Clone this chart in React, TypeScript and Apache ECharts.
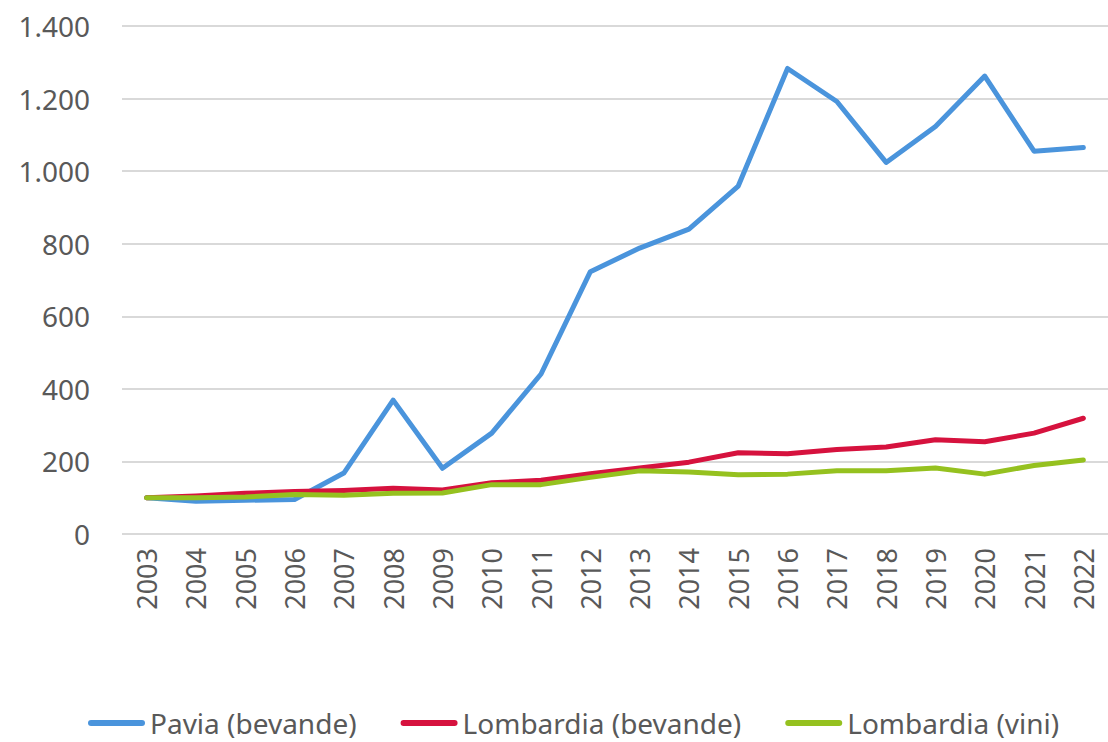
import React, { useEffect, useRef } from "react";
import * as echarts from "echarts";

const years = ["2003","2004","2005","2006","2007","2008","2009","2010","2011","2012","2013","2014","2015","2016","2017","2018","2019","2020","2021","2022"];
const paviaBevande = [100, 90, 93, 95, 168, 369, 181, 278, 441, 723, 788, 840, 959, 1283, 1192, 1024, 1123, 1262, 1055, 1065];
const lombardiaBevande = [100, 105, 112, 117, 120, 126, 121, 141, 148, 166, 182, 198, 224, 221, 233, 240, 260, 254, 278, 319];
const lombardiaVini = [100, 100, 102, 109, 107, 112, 113, 136, 136, 156, 174, 171, 163, 165, 174, 174, 182, 165, 189, 204];
const yTicks = { min: 0, max: 1400, interval: 200 };

const FONT = "Noto Sans";
const TEXT = "#595959";
const LEGEND_ICON = "path://M3,0 L54,0 A3,3 0 0 1 54,6 L3,6 A3,3 0 0 1 3,0 Z";

function fmt(v: number): string {
  return String(Math.round(v)).replace(/\B(?=(\d{3})+(?!\d))/g, ".");
}

export default function App() {
  const ref = useRef<HTMLDivElement>(null);
  useEffect(() => {
    if (!ref.current) return;
    const chart = echarts.init(ref.current, null, { renderer: "svg" });
    const mk = (name: string, data: number[], color: string) => ({
      name,
      type: "line",
      data,
      symbol: "none",
      showSymbol: false,
      lineStyle: { color, width: 5, cap: "round", join: "round" },
      itemStyle: { color },
    });
    chart.setOption({
      animation: false,
      textStyle: { fontFamily: FONT },
      grid: { left: 122, top: 26, width: 992, bottom: 208, containLabel: false },
      xAxis: {
        type: "category",
        data: years,
        boundaryGap: true,
        axisLine: { show: false },
        axisTick: { show: false },
        axisLabel: { rotate: 90, margin: 14, color: TEXT, fontSize: 27, fontFamily: FONT },
      },
      yAxis: {
        type: "value",
        min: yTicks.min,
        max: yTicks.max,
        interval: yTicks.interval,
        axisLine: { show: false },
        axisTick: { show: false },
        axisLabel: { margin: 32, color: TEXT, fontSize: 28, fontFamily: FONT, formatter: (v: number) => fmt(v) },
        splitLine: { lineStyle: { color: "#d9d9d9", width: 2 } },
      },
      legend: {
        bottom: 0,
        left: 83,
        icon: LEGEND_ICON,
        itemWidth: 57,
        itemHeight: 6,
        itemGap: 44,
        textStyle: { color: TEXT, fontSize: 28, fontFamily: FONT },
        data: ["Pavia (bevande)", "Lombardia (bevande)", "Lombardia (vini)"],
      },
      series: [
        mk("Pavia (bevande)", paviaBevande, "#4a94dc"),
        mk("Lombardia (bevande)", lombardiaBevande, "#d6123e"),
        mk("Lombardia (vini)", lombardiaVini, "#95c11f"),
      ],
    });
    return () => chart.dispose();
  }, []);
  return (
    <div
      ref={ref}
      style={{ position: "fixed", left: 0, top: 0, width: 1108, height: 742, background: "#fff" }}
    />
  );
}
